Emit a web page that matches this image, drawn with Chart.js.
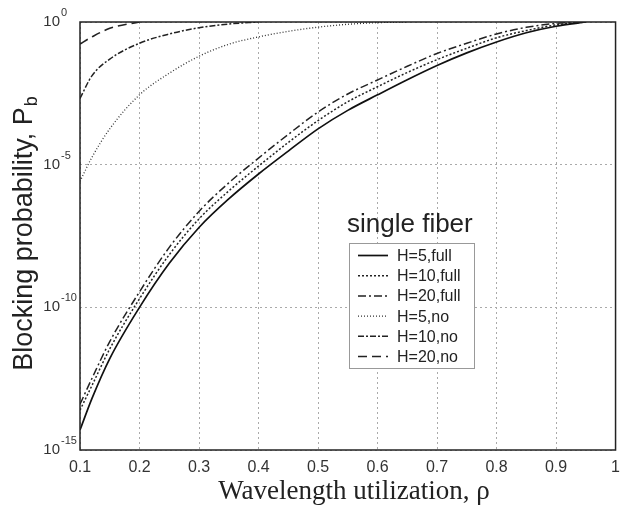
<!DOCTYPE html>
<html>
<head>
<meta charset="utf-8">
<script src="https://cdn.jsdelivr.net/npm/chart.js@4.4.1/dist/chart.umd.min.js"></script>
<style>
    html, body { margin: 0; padding: 0; background: #fff; }
    canvas { display: block; }
</style>
</head>
<body>
<canvas id="Chart" width="628" height="506"></canvas>
<script>
//Wavelength utilization (x values shared by every series).
const rho = [0.1, 0.12, 0.15, 0.2, 0.25, 0.3, 0.35, 0.4, 0.45, 0.5, 0.55, 0.6, 0.65, 0.7, 0.75, 0.8, 0.85, 0.9, 0.95];

//Blocking probability, one list per curve.
const h5Full = [5e-15, 6.3e-14, 1.6e-12, 1e-10, 3.5e-9, 6.3e-8, 6.3e-7, 4.7e-6, 3e-5, 1.8e-4, 8e-4, 2.8e-3, 9.5e-3, 0.03, 0.083, 0.2, 0.42, 0.71, 1];
const h10Full = [2.5e-14, 1.8e-13, 3.5e-12, 2e-10, 7e-9, 1.26e-7, 1.2e-6, 8.9e-6, 6e-5, 3.5e-4, 1.6e-3, 5.4e-3, 0.017, 0.048, 0.12, 0.28, 0.5, 0.79, 1];
const h20Full = [4e-14, 3.2e-13, 6.3e-12, 3.5e-10, 1.26e-8, 2.3e-7, 2.3e-6, 1.7e-5, 1.15e-4, 7e-4, 3e-3, 9.3e-3, 0.028, 0.079, 0.18, 0.38, 0.65, 0.89, 1];
const h5No = [2.6e-6, 1.8e-5, 1.8e-4, 2.8e-3, 0.016, 0.063, 0.166, 0.3, 0.47, 0.66, 0.83, 0.95, 1, null, null, null, null, null, null];
const h10No = [2.1e-3, 0.013, 0.05, 0.18, 0.38, 0.63, 0.85, 1, null, null, null, null, null, null, null, null, null, null, null];
const h20No = [0.17, 0.3, 0.6, 1, null, null, null, null, null, null, null, null, null, null, null, null, null, null, null];

const seriesLabels = ['H=5,full', 'H=10,full', 'H=20,full', 'H=5,no', 'H=10,no', 'H=20,no'];

//Axis ticks.
const xTickValues = [0.1, 0.2, 0.3, 0.4, 0.5, 0.6, 0.7, 0.8, 0.9, 1];
const xTickLabels = ['0.1', '0.2', '0.3', '0.4', '0.5', '0.6', '0.7', '0.8', '0.9', '1'];
const yTickValues = [1e-15, 1e-10, 1e-5, 1];
const yTickBase = ['10', '10', '10', '10'];
const yTickExponents = ['-15', '-10', '-5', '0'];

/**
 * Pairs the x values with one series, keeping the gaps.
 *
 * @param values {Array}
 * @returns {Array}
 */
function toPoints(values) {
    return rho.map(function (x, i) {
        return {x: x, y: values[i]};
    });
}

/**
 * Builds a dataset with the given line style.
 */
function lineDataset(label, values, color, width, dash) {
    return {
        label: label,
        data: toPoints(values),
        borderColor: color,
        backgroundColor: color,
        borderWidth: width,
        borderDash: dash,
        pointRadius: 0,
        fill: false,
        spanGaps: false,
        cubicInterpolationMode: 'monotone'
    };
}

//Draws the frame, y tick labels, the inset legend and both axis titles.
const decorations = {
    id: 'decorations',
    afterDraw: function (chart) {
        let ctx = chart.ctx;
        let area = chart.chartArea;
        let yScale = chart.scales.y;

        ctx.save();
        ctx.strokeStyle = '#222';
        ctx.lineWidth = 1.5;
        ctx.setLineDash([]);
        ctx.strokeRect(area.left, area.top, area.right - area.left, area.bottom - area.top);

        //y tick labels with superscript exponents
        ctx.fillStyle = '#333';
        ctx.textBaseline = 'middle';
        yTickValues.forEach(function (v, i) {
            let y = yScale.getPixelForValue(v);
            ctx.font = '15px "Liberation Sans", Arial, sans-serif';
            ctx.textAlign = 'right';
            ctx.fillText(yTickBase[i], 60, y);
            ctx.font = '11px "Liberation Sans", Arial, sans-serif';
            ctx.textAlign = 'left';
            ctx.fillText(yTickExponents[i], 61, y - 9);
        });

        //legend title
        ctx.fillStyle = '#222';
        ctx.font = '26px "Liberation Sans", Arial, sans-serif';
        ctx.textAlign = 'left';
        ctx.textBaseline = 'alphabetic';
        ctx.fillText('single fiber', 347, 232);

        //legend box
        ctx.fillStyle = '#fff';
        ctx.fillRect(349.5, 243.5, 125, 125);
        ctx.strokeStyle = '#999';
        ctx.lineWidth = 1;
        ctx.strokeRect(349.5, 243.5, 125, 125);

        ctx.font = '16px "Liberation Sans", Arial, sans-serif';
        ctx.textBaseline = 'middle';
        chart.data.datasets.forEach(function (ds, i) {
            let y = 255.5 + i * 20.2;
            ctx.strokeStyle = ds.borderColor;
            ctx.lineWidth = ds.borderWidth;
            ctx.setLineDash(ds.borderDash);
            ctx.beginPath();
            ctx.moveTo(358, y);
            ctx.lineTo(388, y);
            ctx.stroke();
            ctx.setLineDash([]);
            ctx.fillStyle = '#222';
            ctx.fillText(ds.label, 397, y + 1);
        });

        //x axis title
        ctx.fillStyle = '#222';
        ctx.font = '27px "Liberation Serif", "Times New Roman", serif';
        ctx.textAlign = 'center';
        ctx.textBaseline = 'alphabetic';
        ctx.fillText('Wavelength utilization, \u03C1', 354, 499);

        //y axis title with subscript b
        let main = 'Blocking probability, P';
        ctx.font = '27px "Liberation Sans", Arial, sans-serif';
        let w1 = ctx.measureText(main).width;
        ctx.font = '18px "Liberation Sans", Arial, sans-serif';
        let w2 = ctx.measureText('b').width;
        let start = -(w1 + w2) / 2;
        ctx.translate(32, 234);
        ctx.rotate(-Math.PI / 2);
        ctx.textAlign = 'left';
        ctx.font = '27px "Liberation Sans", Arial, sans-serif';
        ctx.fillText(main, start, 0);
        ctx.font = '18px "Liberation Sans", Arial, sans-serif';
        ctx.fillText('b', start + w1 + 1, 5);
        ctx.restore();
    }
};

//The chart configuration
const config = {
    type: 'line',
    data: {
        datasets: [
            lineDataset(seriesLabels[0], h5Full, '#111', 1.7, []),
            lineDataset(seriesLabels[1], h10Full, '#222', 1.5, [2, 2]),
            lineDataset(seriesLabels[2], h20Full, '#222', 1.5, [8, 3, 2, 3]),
            lineDataset(seriesLabels[3], h5No, '#333', 1.3, [1, 2]),
            lineDataset(seriesLabels[4], h10No, '#222', 1.5, [6, 2, 2, 2]),
            lineDataset(seriesLabels[5], h20No, '#222', 1.6, [9, 5])
        ]
    },
    options: {
        responsive: false,
        animation: false,
        layout: {padding: {left: 0, right: 1, top: 22, bottom: 0}},
        plugins: {
            legend: {display: false},
            tooltip: {enabled: false}
        },
        scales: {
            x: {
                type: 'linear',
                min: 0.1,
                max: 1,
                afterBuildTicks: function (scale) {
                    scale.ticks = xTickValues.map(function (v) { return {value: v}; });
                },
                afterFit: function (scale) {
                    scale.height = 56;
                },
                ticks: {
                    autoSkip: false,
                    maxRotation: 0,
                    padding: 8,
                    color: '#333',
                    font: {family: '"Liberation Sans", Arial, sans-serif', size: 16},
                    callback: function (value, index) {
                        return xTickLabels[index];
                    }
                },
                grid: {color: '#aaa', lineWidth: 1, drawTicks: false},
                border: {display: false, dash: [2, 3]}
            },
            y: {
                type: 'logarithmic',
                min: 1e-15,
                max: 1,
                afterBuildTicks: function (scale) {
                    scale.ticks = yTickValues.map(function (v) { return {value: v}; });
                },
                afterFit: function (scale) {
                    scale.width = 80;
                },
                ticks: {display: false},
                grid: {color: '#aaa', lineWidth: 1, drawTicks: false},
                border: {display: false, dash: [2, 3]}
            }
        }
    },
    plugins: [decorations]
};

window.onload = function () {
    window.myLine = new Chart(document.getElementById('Chart').getContext('2d'), config);
};
</script>
</body>
</html>
